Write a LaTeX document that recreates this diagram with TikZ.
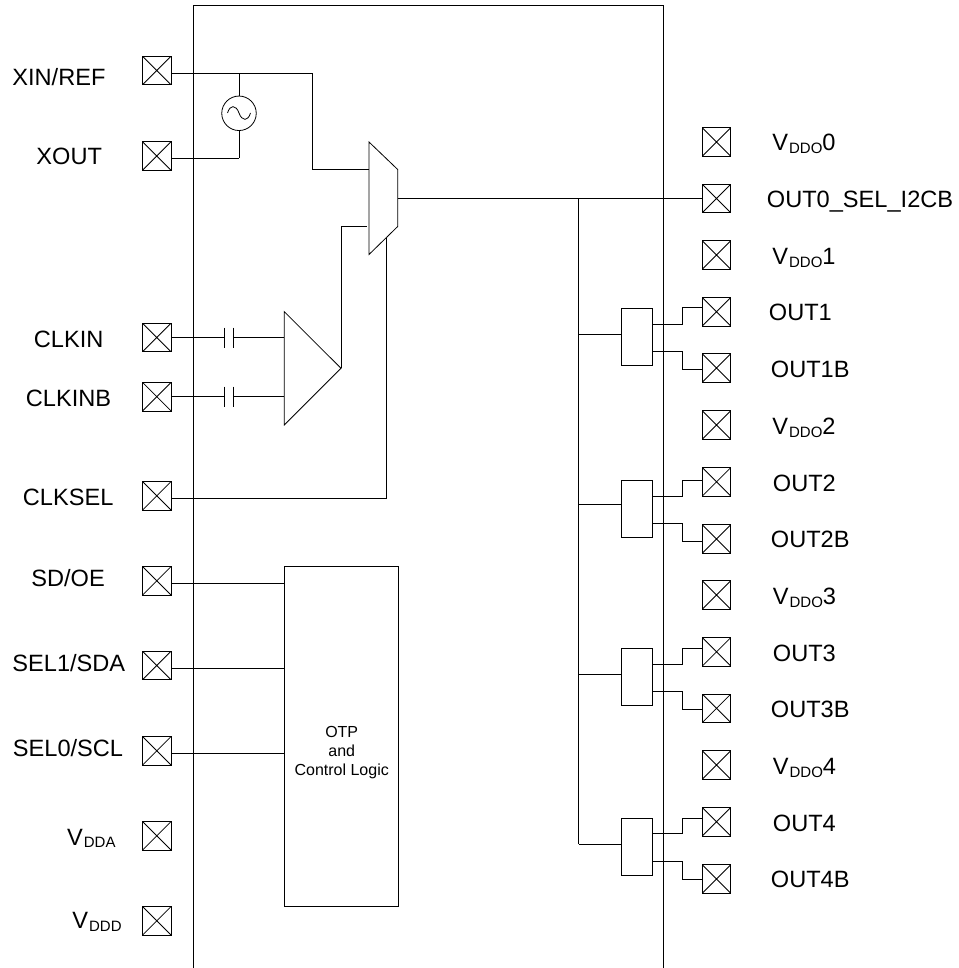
\documentclass[tikz,border=0pt]{standalone}
\usepackage{fontspec}
\setmainfont{Liberation Sans}
\usetikzlibrary{calc}
\newcommand{\vsb}[1]{V\kern1pt\raisebox{-2.6pt}{\fontsize{15}{16}\selectfont #1}}
\tikzset{
  x=1pt,y=-1pt,
  every path/.style={line width=0.8pt},
  pad/.style={draw,minimum size=28.5pt,inner sep=0pt,outer sep=0pt,
    path picture={\draw[line width=0.8pt] (path picture bounding box.north west)--(path picture bounding box.south east)
      (path picture bounding box.north east)--(path picture bounding box.south west);}},
  lab/.style={inner sep=0pt,font=\fontsize{23.6}{26}\selectfont,anchor=base west},
  buf/.style={draw,minimum width=31.3pt,minimum height=57pt,inner sep=0pt,outer sep=0pt},
}
\begin{document}
\begin{tikzpicture}
\useasboundingbox (0,0) rectangle (958,968);
% chip outline
\coordinate (cbl) at (193.5,968);
\coordinate (cbr) at (663.7,968);
\draw (cbl) -- (193.5,5) -- (663.7,5) -- (cbr);
% left pads
\foreach \n/\y in {xin/70.5,xout/156,clkin/337.5,clkinb/396.7,clksel/495.8,sdoe/580.8,sel1/665.5,sel0/750.8,vdda/835.8,vddd/920.8}
  \node[pad] (\n) at (156.8,\y) {};
% right pads
\foreach \n/\y in {vo0/142,out0/198.5,vo1/255,out1/311.7,out1b/368,vo2/425,out2/481.8,out2b/539,vo3/595,out3/651.8,out3b/708.3,vo4/765,out4/821.7,out4b/879}
  \node[pad] (\n) at (716.5,\y) {};
% left labels
\node[lab] (lxin) at (12,85.7) {XIN/REF};
\node[lab] (lxout) at (36,165) {XOUT};
\node[lab] (lclkin) at (33.5,347.3) {CLKIN};
\node[lab] (lclkinb) at (25.5,406) {CLKINB};
\node[lab] (lclksel) at (22.5,505) {CLKSEL};
\node[lab] (lsdoe) at (31,586.7) {SD/OE};
\node[lab] (lsel1) at (12,671.7) {SEL1/SDA};
\node[lab] (lsel0) at (12.5,756) {SEL0/SCL};
\node[lab] (lvdda) at (66.7,845) {\vsb{DDA}};
\node[lab] (lvddd) at (72,928.5) {\vsb{DDD}};
% right labels
\node[lab] (lv0) at (772,151) {\vsb{DDO}0};
\node[lab] (lo0) at (766.5,207.3) {OUT0\_SEL\_I2CB};
\node[lab] (lv1) at (772,264.5) {\vsb{DDO}1};
\node[lab] (lo1) at (768.5,320.5) {OUT1};
\node[lab] (lo1b) at (770.5,377.5) {OUT1B};
\node[lab] (lv2) at (772,434.5) {\vsb{DDO}2};
\node[lab] (lo2) at (772.5,491) {OUT2};
\node[lab] (lo2b) at (770.5,547.7) {OUT2B};
\node[lab] (lv3) at (772.5,604.5) {\vsb{DDO}3};
\node[lab] (lo3) at (772.5,661.2) {OUT3};
\node[lab] (lo3b) at (770.5,717.7) {OUT3B};
\node[lab] (lv4) at (772.5,774.5) {\vsb{DDO}4};
\node[lab] (lo4) at (772.5,831.5) {OUT4};
\node[lab] (lo4b) at (770.5,887.7) {OUT4B};
% oscillator
\node[draw,circle,minimum size=34.5pt,inner sep=0pt,outer sep=0pt] (osc) at (239,113.3) {};
\draw (227.5,113) .. controls (230,104.5) and (236,104.5) .. (239,113) .. controls (242,121.5) and (248,121.5) .. (250.5,113);
\coordinate (xinj) at (239,73.5);
\coordinate (xoutj) at (239,158.3);
\draw (xinj) -- (osc.north);
\draw (osc.south) -- (xoutj);
\draw (xout.east |- xoutj) -- (xoutj);
% mux
\coordinate (m1) at (369,142);
\coordinate (m2) at (397.7,169.5);
\coordinate (m3) at (397.7,226.5);
\coordinate (m4) at (369,254.5);
\draw (m1) -- (m2) -- (m3) -- (m4) -- cycle;
\coordinate (mout) at (397.7,198.5);
\coordinate (mselt) at (386.3,238);
\draw (xin.east |- xinj) -- (312.7,73.5) -- (312.7,169.5) -- (369,169.5);
% amplifier
\coordinate (a1) at (284.3,311.7);
\coordinate (a2) at (341,368.3);
\coordinate (a3) at (284.3,425);
\draw (a1) -- (a2) -- (a3) -- cycle;
\draw (a2) -- (341,226.5) -- (367,226.5);
% capacitors
\coordinate (c1a) at (224.5,337.7);
\coordinate (c1b) at (233.5,337.7);
\coordinate (c2a) at (224.5,396.7);
\coordinate (c2b) at (233.5,396.7);
\draw (clkin.east |- c1a) -- (c1a);
\draw (c1b) -- (a1 |- c1b);
\draw (clkinb.east |- c2a) -- (c2a);
\draw (c2b) -- (a1 |- c2b);
\draw ($(c1a)+(0,-10)$) -- ($(c1a)+(0,10)$);
\draw ($(c1b)+(0,-10)$) -- ($(c1b)+(0,10)$);
\draw ($(c2a)+(0,-10)$) -- ($(c2a)+(0,10)$);
\draw ($(c2b)+(0,-10)$) -- ($(c2b)+(0,10)$);
% clksel
\draw (clksel.east |- 0,498.3) -- (386.3,498.3) -- (mselt);
% logic
\node[draw,minimum width=113.5pt,minimum height=340pt,inner sep=0pt,outer sep=0pt] (logic) at (341.2,736) {};
\node[align=center,inner sep=0pt,font=\fontsize{16}{19}\selectfont] (logict) at (341.7,753) {OTP\\and\\Control Logic};
\draw (sdoe.east |- 0,583.3) -- (logic.west |- 0,583.3);
\draw (sel1.east |- 0,668.3) -- (logic.west |- 0,668.3);
\draw (sel0.east |- 0,753.3) -- (logic.west |- 0,753.3);
% bus
\coordinate (busT) at (578.5,198.5);
\draw (mout) -- (out0.west);
\coordinate (busB) at (578.5,844.3);
\draw (busT) -- (busB);
% buffers: name/top pad/bottom pad/box centre/input/out1/out2/pad1/pad2
\foreach \n/\t/\b/\c/\i/\p/\q/\r/\s in {
  1/out1/out1b/336.8/334.5/324/351/307.7/369,
  2/out2/out2b/509/504.3/496/523.3/480.3/541,
  3/out3/out3b/676.8/674.7/664/691.3/648.3/709,
  4/out4/out4b/847/844.3/833.7/861/818.3/879.3}{
  \node[buf] (b\n) at (636.6,\c) {};
  \draw (578.5,\i) -- (b\n.west |- 0,\i);
  \draw (b\n.east |- 0,\p) -- (682.3,\p) -- (682.3,\r) -- (\t.west |- 0,\r);
  \draw (b\n.east |- 0,\q) -- (682.3,\q) -- (682.3,\s) -- (\b.west |- 0,\s);
}
\end{tikzpicture}
\end{document}
